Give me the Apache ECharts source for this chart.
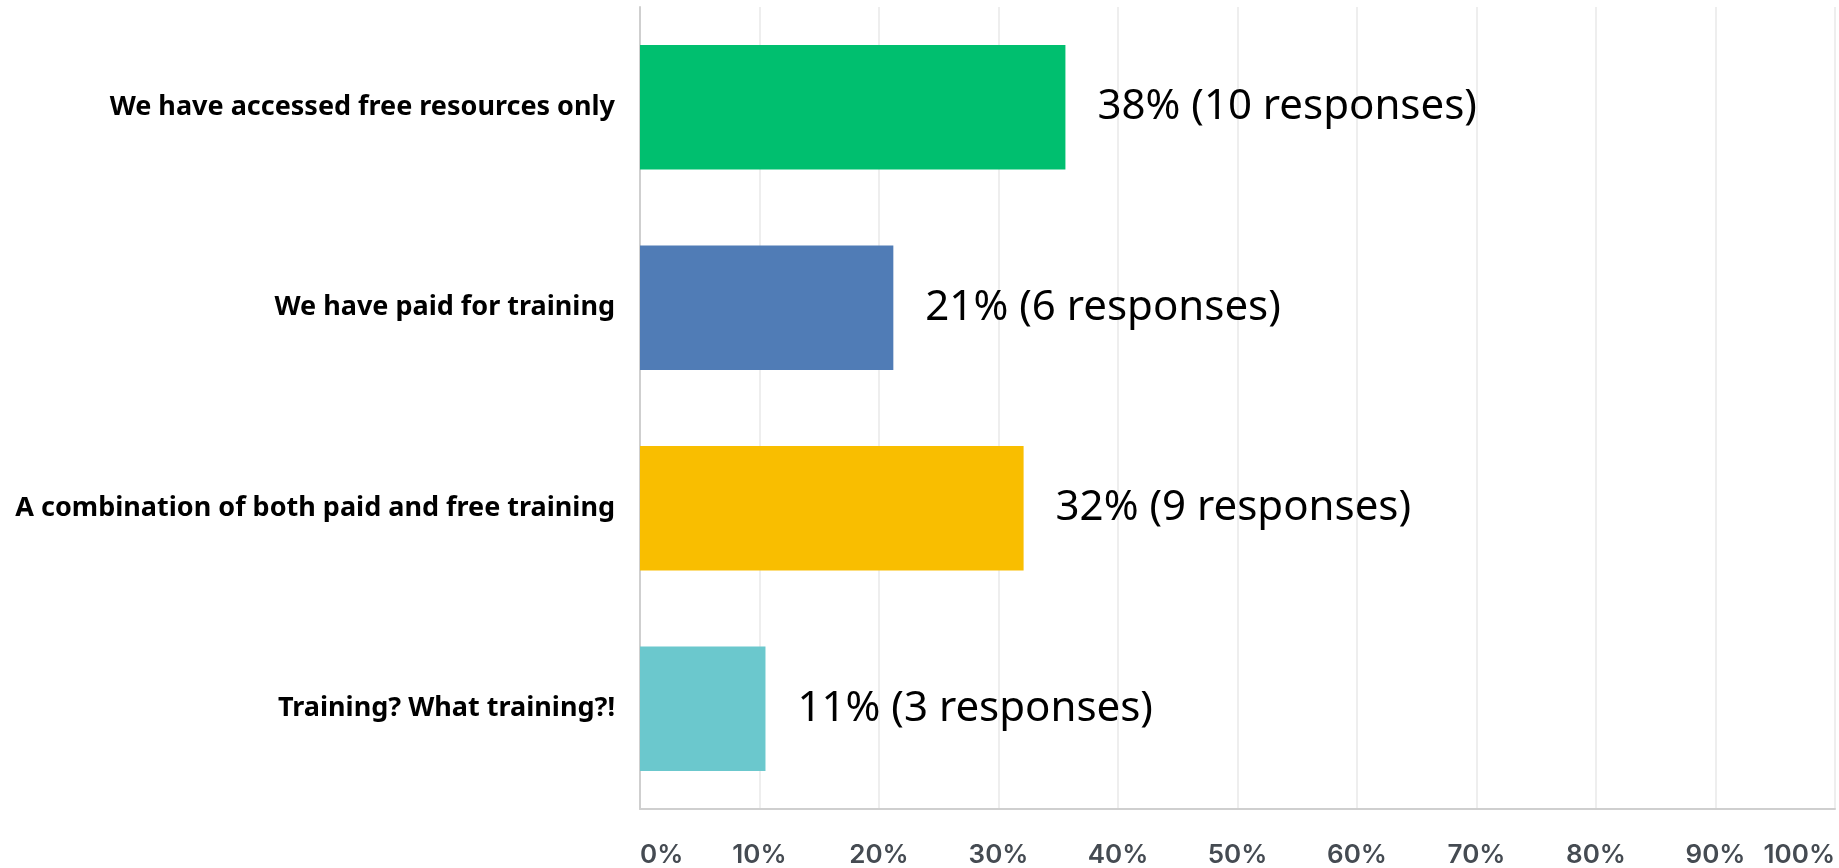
<!DOCTYPE html>
<html>
<head>
<meta charset="utf-8">
<title>Training</title>
<script src="https://cdn.jsdelivr.net/npm/echarts@6/dist/echarts.min.js"></script>
<style>
  html, body { margin: 0; padding: 0; background: #fff; }
  #chart { width: 1839px; height: 868px; }
</style>
</head>
<body>
<div id="chart"></div>
<script>
// answers, top to bottom
const categories = [
  'We have accessed free resources only',
  'We have paid for training',
  'A combination of both paid and free training',
  'Training? What training?!'
]
// bar lengths as drawn (percent of the axis)
const barValues = [35.6, 21.2, 32.1, 10.5]
// the printed labels
const percentLabels = ['38%', '21%', '32%', '11%']
const responses = [10, 6, 9, 3]
const tickLabels = ['0%', '10%', '20%', '30%', '40%', '50%', '60%', '70%', '80%', '90%', '100%']
const colors = ['#00BF6F', '#507CB6', '#F9BE00', '#6BC8CD']

const myChart = echarts.init(document.getElementById('chart'))
const option = {
  animation: false,
  grid: {
    top: 7,
    bottom: 868 - 809,
    left: 640,
    right: 4,
    containLabel: false
  },
  xAxis: {
    type: 'value',
    min: 0,
    max: 100,
    interval: 10,
    axisLine: { show: true, lineStyle: { color: '#cfcfcf', width: 2 } },
    axisTick: { show: false },
    splitLine: { show: true, lineStyle: { color: '#e9e9e9', width: 1.5 } },
    axisLabel: {
      margin: 33,
      color: '#454b52',
      fontFamily: 'Inter',
      fontWeight: 600,
      fontSize: 26,
      alignMinLabel: 'left',
      alignMaxLabel: 'right',
      formatter: (val) => tickLabels[Math.round(val / 10)]
    }
  },
  yAxis: {
    type: 'category',
    inverse: true,
    data: categories,
    axisLine: { show: true, lineStyle: { color: '#cfcfcf', width: 2 } },
    axisTick: { show: false },
    splitLine: { show: false },
    axisLabel: {
      margin: 25,
      color: '#000',
      fontFamily: 'Noto Sans',
      fontWeight: 'bold',
      fontSize: 27
    }
  },
  series: [
    {
      type: 'bar',
      barCategoryGap: '38%',
      data: barValues.map((v, i) => ({ value: v, itemStyle: { color: colors[i] } })),
      label: {
        show: true,
        position: 'right',
        distance: 32,
        color: '#000',
        fontFamily: 'Noto Sans',
        fontSize: 42,
        formatter: (p) => percentLabels[p.dataIndex] + ' (' + responses[p.dataIndex] + ' responses)'
      }
    }
  ]
}
option && myChart.setOption(option)
</script>
</body>
</html>
